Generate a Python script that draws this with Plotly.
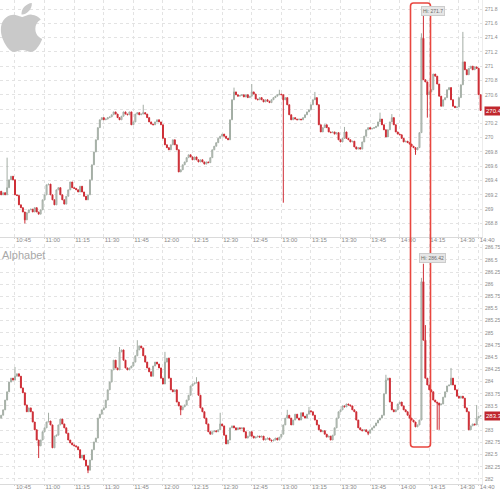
import base64
import pandas as pd
import plotly.graph_objects as go

# ---------------- data (1-minute bars, 10:38 -> 14:41) ----------------
aapl_first_open = 269.25
aapl_close = [
    269.20, 269.23, 269.20, 269.30, 269.41, 269.46, 269.41, 269.20, 269.19, 269.06,
    269.02, 268.96, 268.85, 268.95, 268.99, 269.00, 268.96, 269.02, 268.96, 268.93,
    268.99, 269.13, 269.20, 269.34, 269.35, 269.20, 269.13, 269.06, 269.27, 269.30,
    269.20, 269.13, 269.07, 269.18, 269.27, 269.38, 269.30, 269.29, 269.27, 269.24,
    269.32, 269.24, 269.18, 269.13, 269.20, 269.41, 269.62, 269.80, 269.97, 270.14,
    270.25, 270.28, 270.25, 270.26, 270.28, 270.29, 270.32, 270.36, 270.33, 270.28,
    270.25, 270.30, 270.36, 270.33, 270.32, 270.36, 270.18, 270.22, 270.33, 270.35,
    270.32, 270.33, 270.35, 270.33, 270.28, 270.22, 270.19, 270.18, 270.22, 270.25,
    270.22, 270.18, 269.99, 269.90, 269.86, 269.83, 269.90, 269.97, 269.90, 269.83,
    269.52, 269.55, 269.62, 269.66, 269.72, 269.76, 269.73, 269.69, 269.73, 269.69,
    269.66, 269.69, 269.66, 269.63, 269.66, 269.65, 269.72, 269.83, 269.88, 269.93,
    269.99, 270.02, 270.05, 270.02, 269.99, 269.97, 270.25, 270.53, 270.64, 270.60,
    270.58, 270.59, 270.60, 270.57, 270.60, 270.56, 270.58, 270.64, 270.61, 270.54,
    270.53, 270.56, 270.53, 270.50, 270.53, 270.51, 270.49, 270.53, 270.56, 270.58,
    270.60, 270.61, 270.60, 270.53, 270.56, 270.46, 270.32, 270.25, 270.28, 270.26,
    270.25, 270.26, 270.25, 270.28, 270.32, 270.36, 270.39, 270.46, 270.53, 270.56,
    270.46, 270.18, 270.08, 270.14, 270.18, 270.14, 270.08, 270.07, 270.08, 270.05,
    270.07, 269.97, 269.94, 269.99, 270.08, 269.99, 269.97, 269.94, 269.95, 269.87,
    269.84, 269.86, 269.84, 269.94, 270.02, 270.11, 270.14, 270.12, 270.13, 270.14,
    270.16, 270.22, 270.26, 270.18, 270.11, 270.01, 270.11, 270.22, 270.28, 270.18,
    270.08, 270.05, 270.04, 269.99, 269.94, 269.95, 269.93, 269.91, 269.88, 269.86,
    269.83, 269.86, 270.07, 271.39, 270.81, 270.78, 270.60, 270.64, 270.67, 270.89,
    270.86, 270.75, 270.58, 270.44, 270.53, 270.56, 270.67, 270.70, 270.53, 270.44,
    270.42, 270.43, 270.56, 270.74, 271.06, 270.95, 270.88, 270.97, 271.00, 270.95,
    270.99, 270.97, 270.60, 270.38,
]
# notable wicks: time -> (high, low)
aapl_wicks = {
    "10:41": (269.72, None), "10:50": (None, 268.80), "11:50": (270.46, None),
    "12:36": (270.70, None), "12:45": (270.75, None), "12:59": (270.67, None),
    "13:01": (None, 269.09), "13:17": (270.64, None), "13:32": (270.15, None),
    "13:50": (270.35, None), "13:56": (270.33, None), "14:08": (None, 269.76),
    "14:11": (271.46, None), "14:12": (271.72, None), "14:14": (None, 270.28),
    "14:32": (271.48, None),
}

googl_first_open = 283.25
googl_close = [
    283.31, 283.42, 283.62, 283.79, 283.99, 284.07, 284.03, 284.11, 284.16, 284.11,
    283.87, 283.77, 283.52, 283.38, 283.46, 283.38, 283.17, 283.01, 282.80, 282.68,
    282.80, 282.97, 283.05, 283.17, 283.19, 283.11, 282.64, 282.88, 282.90, 283.11,
    283.23, 283.13, 283.05, 282.94, 282.80, 282.74, 282.70, 282.68, 282.66, 282.60,
    282.43, 282.49, 282.39, 282.27, 282.18, 282.39, 282.60, 282.76, 282.84, 283.25,
    283.33, 283.42, 283.46, 283.62, 283.83, 283.99, 284.24, 284.44, 284.28, 284.24,
    284.61, 284.65, 284.44, 284.28, 284.24, 284.28, 284.32, 284.40, 284.53, 284.65,
    284.73, 284.69, 284.53, 284.40, 284.28, 284.20, 284.11, 284.32, 284.40, 284.36,
    284.28, 284.07, 283.95, 284.40, 284.48, 284.07, 283.83, 283.79, 283.83, 283.58,
    283.50, 283.42, 283.48, 283.52, 283.62, 283.72, 283.91, 283.95, 283.97, 283.99,
    283.72, 283.46, 283.38, 283.25, 283.13, 282.97, 282.92, 282.97, 282.99, 282.97,
    283.01, 283.13, 283.09, 282.90, 282.72, 282.80, 283.05, 283.09, 283.05, 283.01,
    283.05, 283.03, 283.05, 282.97, 282.84, 282.88, 282.97, 282.88, 282.84, 282.86,
    282.88, 282.86, 282.88, 282.80, 282.82, 282.84, 282.80, 282.78, 282.80, 282.84,
    282.80, 282.86, 282.92, 283.11, 283.25, 283.31, 283.25, 283.11, 283.21, 283.33,
    283.25, 283.21, 283.36, 283.29, 283.25, 283.33, 283.40, 283.38, 283.31, 283.21,
    283.11, 283.01, 282.97, 282.99, 282.92, 282.86, 282.88, 282.80, 282.90, 283.05,
    283.25, 283.38, 283.42, 283.50, 283.48, 283.54, 283.52, 283.50, 283.42, 283.38,
    283.21, 283.05, 283.01, 282.99, 283.01, 282.97, 282.94, 283.01, 283.05, 283.09,
    283.15, 283.21, 283.25, 283.31, 283.75, 284.03, 284.07, 283.58, 283.42, 283.38,
    283.42, 283.54, 283.58, 283.50, 283.42, 283.38, 283.31, 283.25, 283.21, 283.17,
    283.07, 283.11, 283.21, 286.05, 284.85, 284.07, 283.93, 283.83, 283.79, 283.62,
    283.58, 283.56, 283.52, 283.54, 283.68, 283.79, 283.91, 283.93, 284.07, 283.93,
    283.83, 283.70, 283.66, 283.70, 283.66, 283.46, 283.38, 283.01, 283.09, 283.13,
    283.11, 283.25, 283.29, 283.30,
]
googl_wicks = {
    "10:45": (284.30, None), "10:57": (None, 282.43), "11:02": (283.36, None),
    "11:22": (None, 282.12), "11:38": (284.71, None), "11:47": (284.85, None),
    "12:01": (284.61, None), "12:09": (None, 283.31), "12:17": (284.09, None),
    "12:29": (283.36, None), "13:03": (283.42, None), "13:14": (283.48, None),
    "13:44": (None, 282.90), "13:53": (284.14, None), "14:11": (286.13, None),
    "14:12": (286.42, None), "14:13": (285.16, None), "14:19": (None, 283.01),
    "14:20": (None, 283.01), "14:26": (284.28, None), "14:39": (283.52, None),
}

tick_labels = ["10:45", "11:00", "11:15", "11:30", "11:45", "12:00", "12:15", "12:30",
               "12:45", "13:00", "13:15", "13:30", "13:45", "14:00", "14:15", "14:30", "14:40"]
aapl_last, googl_last = "270.4", "283.3"
aapl_hi_text, googl_hi_text = "Hi: 271.7", "Hi: 286.42"
aapl_hi_time, googl_hi_time = "14:11:00", "14:09:45"

DAY = "2024-06-03 "
START = DAY + "10:38"

# ---------------- helpers ----------------
W, H = 500, 489
ML, MR, MT, MB = 0, 18, 0, 5
PW, PH = W - ML - MR, H - MT - MB


def px_x(x):
    return (x - ML) / PW


def px_y(y):
    return (PH - (y - MT)) / PH


def build(close, first_open, wicks):
    t = pd.date_range(START, periods=len(close), freq="min")
    opens = [first_open] + close[:-1]
    highs = [max(o, c) for o, c in zip(opens, close)]
    lows = [min(o, c) for o, c in zip(opens, close)]
    labels = list(t.strftime("%H:%M"))
    for k, (h, l) in wicks.items():
        i = labels.index(k)
        if h is not None:
            highs[i] = h
        if l is not None:
            lows[i] = l
    return t, opens, highs, lows


GRID = "#e3e3e3"
XFONT = dict(family="Liberation Sans", size=6, color="#8a8a8a")
YFONT = dict(family="Liberation Sans", size=5, color="#8a8a8a")

fig = go.Figure()
for (close, fo, wk, xa, ya) in [(aapl_close, aapl_first_open, aapl_wicks, "x", "y"),
                                (googl_close, googl_first_open, googl_wicks, "x2", "y2")]:
    t, o, h, l = build(close, fo, wk)
    fig.add_trace(go.Candlestick(
        x=t, open=o, high=h, low=l, close=close, xaxis=xa, yaxis=ya,
        increasing=dict(line=dict(color="#a3ada4", width=1), fillcolor="#d3d9d3"),
        decreasing=dict(line=dict(color="#cf2e36", width=1), fillcolor="#b5121c"),
        showlegend=False, whiskerwidth=0,
    ))

xr = [DAY + "10:37:24", DAY + "14:41:42"]
tickvals = [DAY + s for s in tick_labels]
xcommon = dict(range=xr, tickvals=tickvals, ticktext=tick_labels, showgrid=True,
               gridcolor=GRID, griddash="dot", gridwidth=1, showline=True,
               linecolor="#dadada", linewidth=1, ticks="outside", ticklen=1,
               tickcolor="#cfcfcf", tickfont=XFONT, ticklabelposition="outside right",
               ticklabelstandoff=-3, tickangle=0, rangeslider=dict(visible=False),
               automargin=False, zeroline=False, fixedrange=True)
ycommon = dict(side="right", showgrid=True, gridcolor=GRID, griddash="dot", gridwidth=1,
               showline=True, linecolor="#ececec", ticks="", tickfont=YFONT,
               ticklabelstandoff=1, automargin=False, zeroline=False, fixedrange=True)

top_dom = [px_y(237), 1.0]
bot_dom = [0.0, px_y(244)]

fig.update_layout(
    width=W, height=H, margin=dict(l=ML, r=MR, t=MT, b=MB),
    paper_bgcolor="white", plot_bgcolor="white", template="none",
    xaxis=dict(anchor="y", domain=[0, 1], **xcommon),
    yaxis=dict(anchor="x", domain=top_dom, range=[268.61, 271.926], tick0=268.8, dtick=0.2,
               **ycommon),
    xaxis2=dict(anchor="y2", domain=[0, 1], **xcommon),
    yaxis2=dict(anchor="x2", domain=bot_dom, range=[281.897, 286.825], tick0=282, dtick=0.25,
                **ycommon),
    hovermode=False,
)

# last price labels
for txt, val, yref in [(aapl_last, aapl_close[-1], "y"), (googl_last, googl_close[-1], "y2")]:
    fig.add_annotation(x=1.0, xref="paper", y=val, yref=yref, text=txt, showarrow=False,
                       xanchor="left", yanchor="middle", xshift=2,
                       font=dict(family="Liberation Sans", size=6, color="white"),
                       bgcolor="#c0272d", borderpad=1)

# Hi labels
fig.add_annotation(x=DAY + aapl_hi_time, xref="x", y=271.77, yref="y", text=aapl_hi_text,
                   showarrow=False, xanchor="left", yanchor="middle",
                   font=dict(family="Liberation Sans", size=5, color="#6a6a6a"),
                   bgcolor="#e6e6e6", bordercolor="#cccccc", borderwidth=1, borderpad=1)
fig.add_annotation(x=DAY + googl_hi_time, xref="x2", y=286.53, yref="y2", text=googl_hi_text,
                   showarrow=False, xanchor="left", yanchor="middle",
                   font=dict(family="Liberation Sans", size=5, color="#6a6a6a"),
                   bgcolor="#e6e6e6", bordercolor="#cccccc", borderwidth=1, borderpad=1)

# "Alphabet" title
fig.add_annotation(x=px_x(0), xref="paper", y=px_y(255), yref="paper", text="Alphabet",
                   showarrow=False, xanchor="left", yanchor="middle",
                   font=dict(family="Liberation Sans", size=11, color="#a8a8a8"))

# red highlight rectangle with rounded corners
x0, x1, y0, y1, r = 410.5, 430.5, 3, 447, 3
pts = [
    ("M", x0 + r, y0), ("L", x1 - r, y0), ("Q", x1, y0, x1, y0 + r), ("L", x1, y1 - r),
    ("Q", x1, y1, x1 - r, y1), ("L", x0 + r, y1), ("Q", x0, y1, x0, y1 - r),
    ("L", x0, y0 + r), ("Q", x0, y0, x0 + r, y0),
]
path = ""
for p in pts:
    cmd, vals = p[0], p[1:]
    coords = []
    for i in range(0, len(vals), 2):
        coords.append(f"{px_x(vals[i]):.5f},{px_y(vals[i + 1]):.5f}")
    path += cmd + " " + " ".join(coords) + " "
path += "Z"
fig.add_shape(type="path", path=path, xref="paper", yref="paper",
              line=dict(color="#e8463f", width=1.6), layer="above")

# Apple logo (grey) as an inline SVG image
apple_svg = (
    '<svg xmlns="http://www.w3.org/2000/svg" viewBox="0 0 170 170">'
    '<path fill="#c9c9c9" d="M150.37 130.25c-2.45 5.66-5.35 10.87-8.71 15.66-4.58 6.53-8.33 '
    '11.05-11.22 13.56-4.48 4.12-9.28 6.23-14.42 6.35-3.69 0-8.14-1.05-13.32-3.18-5.197-2.12'
    '-9.973-3.17-14.34-3.17-4.58 0-9.492 1.05-14.746 3.17-5.262 2.13-9.501 3.24-12.742 3.35'
    '-4.929.21-9.842-1.960-14.746-6.52-3.13-2.73-7.045-7.41-11.735-14.04-5.032-7.08-9.169-15.29'
    '-12.41-24.65-3.471-10.11-5.211-19.9-5.211-29.378 0-10.857 2.346-20.221 7.045-28.068 '
    '3.693-6.303 8.606-11.275 14.755-14.925s12.793-5.51 19.948-5.629c3.915 0 9.049 1.211 '
    '15.429 3.591 6.362 2.388 10.447 3.599 12.238 3.599 1.339 0 5.877-1.416 13.57-4.239 '
    '7.275-2.618 13.415-3.702 18.445-3.275 13.63 1.1 23.87 6.473 30.68 16.153-12.19 7.386'
    '-18.22 17.731-18.1 31.002.11 10.337 3.86 18.939 11.23 25.769 3.34 3.17 7.07 5.62 11.22 '
    '7.36-.9 2.61-1.85 5.11-2.86 7.51zM119.11 7.24c0 8.102-2.96 15.667-8.86 22.669-7.12 '
    '8.324-15.732 13.134-25.071 12.375a25.222 25.222 0 0 1-.188-3.07c0-7.778 3.386-16.102 '
    '9.399-22.908 3.002-3.446 6.82-6.311 11.45-8.597 4.62-2.252 8.99-3.497 13.1-3.71.12 '
    '1.083.17 2.166.17 3.24z"/></svg>'
)
src = "data:image/svg+xml;base64," + base64.b64encode(apple_svg.encode()).decode()
fig.add_layout_image(source=src, xref="paper", yref="paper", x=px_x(-4.2), y=px_y(1.8),
                     sizex=51.4 / PW, sizey=51.4 / PH, xanchor="left", yanchor="top",
                     sizing="stretch", layer="above")

fig.write_html("out.html", config={"displayModeBar": False},
               post_script="document.body.style.margin='0px';")
